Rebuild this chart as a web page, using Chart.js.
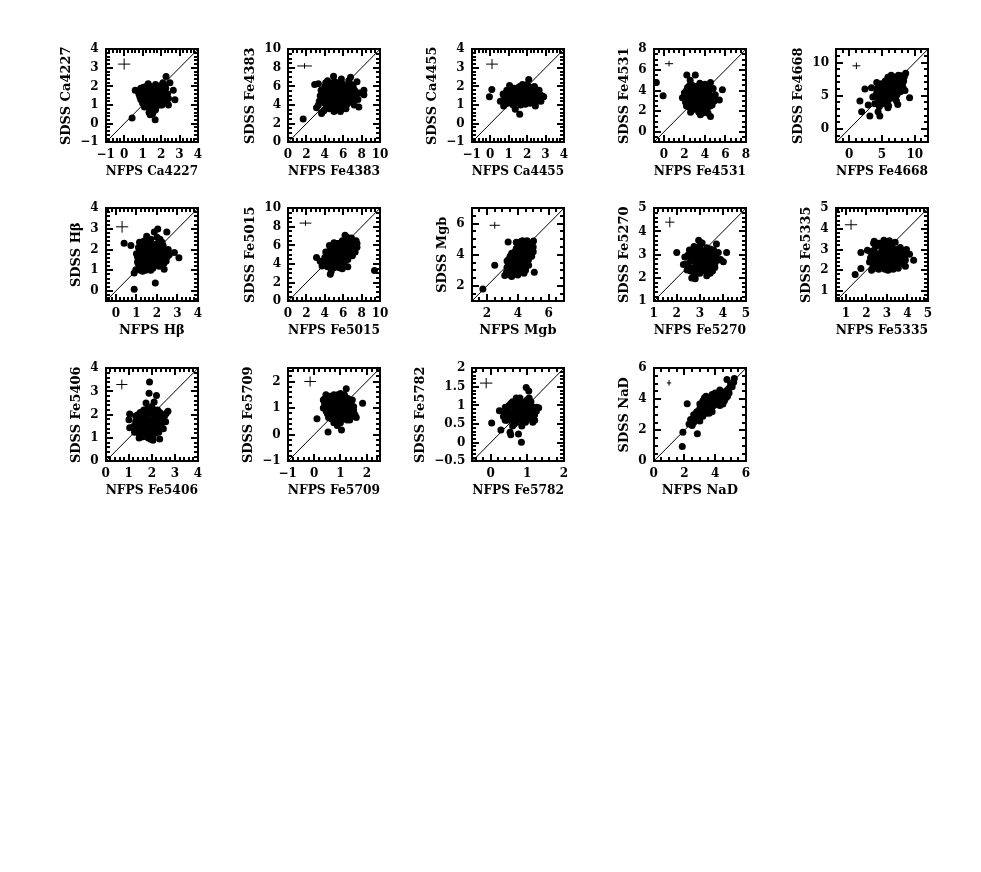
<!DOCTYPE html>
<html>
<head>
<meta charset="utf-8">
<script src="https://cdn.jsdelivr.net/npm/chart.js@4.4.1/dist/chart.umd.min.js"></script>
<style>
    html, body { margin: 0; padding: 0; background: #fff; }
    #page { position: relative; width: 981px; height: 872px; overflow: hidden; background: #fff; }
    .panel { position: absolute; }
    .panel canvas { display: block; }
</style>
</head>
<body>
<div id="page"></div>
<script>
const indexNames = ['Ca4227', 'Fe4383', 'Ca4455', 'Fe4531', 'Fe4668', 'H\u03B2', 'Fe5015', 'Mgb', 'Fe5270', 'Fe5335', 'Fe5406', 'Fe5709', 'Fe5782', 'NaD'];
const axisMin = [-1, 0, -1, -1, -2, -0.5, 0, 1, 1, 0.5, 0, -1, -0.5, 0];
const axisMax = [4, 10, 4, 8, 12, 4, 10, 7, 5, 5, 4, 2.5, 2, 6];

const xTickValues = [
    [-1, 0, 1, 2, 3, 4], [0, 2, 4, 6, 8, 10], [-1, 0, 1, 2, 3, 4], [0, 2, 4, 6, 8], [0, 5, 10],
    [0, 1, 2, 3, 4], [0, 2, 4, 6, 8, 10], [2, 4, 6], [1, 2, 3, 4, 5], [1, 2, 3, 4, 5],
    [0, 1, 2, 3, 4], [-1, 0, 1, 2], [0, 1, 2], [0, 2, 4, 6]
];
const yTickValues = [
    [-1, 0, 1, 2, 3, 4], [0, 2, 4, 6, 8, 10], [-1, 0, 1, 2, 3, 4], [0, 2, 4, 6, 8], [0, 5, 10],
    [0, 1, 2, 3, 4], [0, 2, 4, 6, 8, 10], [2, 4, 6], [1, 2, 3, 4, 5], [1, 2, 3, 4, 5],
    [0, 1, 2, 3, 4], [-1, 0, 1, 2], [-0.5, 0, 0.5, 1, 1.5, 2], [0, 2, 4, 6]
];
const xMinorStep = [0.2, 0.5, 0.2, 0.5, 1, 0.2, 0.5, 0.5, 0.2, 0.2, 0.2, 0.2, 0.2, 0.5];
const yMinorStep = [0.2, 0.5, 0.2, 0.5, 1, 0.2, 0.5, 0.5, 0.2, 0.2, 0.2, 0.2, 0.1, 0.5];

// typical error bar shown in the upper left of each panel
const errCentreX = [0, 1.8, 0.1, 0.5, 1.1, 0.3, 1.9, 2.5, 1.7, 1.25, 0.7, -0.15, -0.12, 1.0];
const errCentreY = [3.2, 8.2, 3.2, 6.6, 9.5, 3.1, 8.4, 5.9, 4.4, 4.2, 3.3, 2.0, 1.6, 5.05];
const errHalfX = [0.33, 0.8, 0.32, 0.4, 0.6, 0.3, 0.64, 0.33, 0.2, 0.3, 0.24, 0.22, 0.17, 0.14];
const errHalfY = [0.3, 0.3, 0.27, 0.27, 0.5, 0.28, 0.3, 0.22, 0.22, 0.25, 0.21, 0.19, 0.14, 0.18];

// [NFPS, SDSS]
const ptsCa4227 = [[0.43,0.3],[2.27,2.54],[2.48,2.2],[2.66,1.79],[2.75,1.29],[1.68,0.21],[1.41,0.48],[2.4,1.0],
    [0.6,1.8],[0.8,1.6],[0.9,1.3],[0.9,1.9],[1.0,1.1],[1.0,1.5],[1.1,1.8],[1.1,0.9],[1.2,1.3],[1.2,1.6],[1.2,2.0],
    [1.3,1.1],[1.3,1.45],[1.35,1.75],[1.4,0.8],[1.4,1.25],[1.45,1.55],[1.5,1.0],[1.5,1.9],[1.55,1.35],[1.6,1.65],
    [1.6,0.7],[1.65,1.15],[1.7,2.1],[1.7,1.45],[1.75,0.95],[1.8,1.75],[1.85,1.25],[1.9,1.55],[1.9,2.0],[1.95,1.0],
    [2.0,1.35],[2.05,1.8],[2.1,1.15],[2.1,2.2],[2.2,1.5],[2.25,1.9],[2.3,1.25],[1.3,2.15],[1.0,1.7],[0.85,1.45],[1.55,0.55],
    [0.95,1.6],[1.05,1.25],[1.05,1.95],[1.15,1.45],[1.15,1.05],[1.25,1.8],[1.25,0.95],[1.3,1.6],[1.35,1.35],[1.4,2.0],
    [1.45,1.1],[1.5,1.7],[1.5,1.45],[1.55,1.15],[1.6,1.9],[1.6,1.5],[1.65,0.9],[1.7,1.25],[1.75,1.6],[1.75,1.9],
    [1.8,1.1],[1.85,1.45],[1.9,1.8],[1.95,1.2],[2.0,1.6],[2.0,2.05],[2.05,1.0],[2.15,1.4],[2.15,1.7],[2.2,2.05],
    [2.35,1.6],[2.4,1.35],[1.45,0.85],[1.7,0.75],[1.35,0.6],[0.75,1.75]];
const ptsFe4383 = [[1.65,2.5],[2.9,6.2],[3.3,6.3],[3.1,3.7],[3.65,3.1],[3.3,4.0],[4.95,7.1],[6.8,7.0],[7.5,6.5],
    [8.25,5.6],[8.25,5.1],[7.7,3.8],[5.7,3.3],
    [3.6,5.6],[3.8,4.5],[4.0,6.0],[4.1,5.0],[4.2,3.8],[4.4,5.5],[4.5,4.3],[4.6,6.2],[4.7,5.0],[4.8,3.6],[4.9,5.8],
    [5.0,4.6],[5.1,6.5],[5.2,5.3],[5.3,4.1],[5.4,6.0],[5.5,5.0],[5.6,3.9],[5.7,5.6],[5.8,4.5],[5.9,6.3],[6.0,5.2],
    [6.1,4.2],[6.2,5.8],[6.3,4.8],[6.5,6.1],[6.6,5.3],[6.7,4.3],[6.9,5.7],[7.0,4.9],[7.2,4.0],[7.3,5.5],[3.9,3.4],
    [4.3,6.6],[5.0,3.3],[6.3,3.6],[3.5,5.0],[7.6,4.6],
    [3.7,4.8],[3.9,5.5],[4.0,4.2],[4.2,5.9],[4.3,4.7],[4.4,5.1],[4.6,4.0],[4.7,5.7],[4.8,6.4],[4.9,4.4],[5.0,5.4],
    [5.1,4.0],[5.2,6.0],[5.3,4.8],[5.4,5.6],[5.5,4.4],[5.6,6.4],[5.7,5.0],[5.8,3.7],[5.9,5.8],[6.0,4.5],[6.1,6.0],
    [6.2,5.1],[6.3,5.5],[6.4,4.1],[6.5,5.7],[6.6,4.8],[6.8,5.2],[6.9,6.2],[7.0,4.4],[7.1,5.9],[7.4,5.1],[4.5,3.6],
    [5.3,3.5],[6.0,3.8],[4.1,6.4],[3.4,4.4],[7.8,5.3],[6.6,6.6],[5.8,6.8]];
const ptsCa4455 = [[0.09,1.84],[-0.04,1.45],[0.55,1.2],[0.73,0.95],[1.36,0.77],[1.6,0.5],[2.09,2.37],[2.45,0.95],[2.9,1.45],
    [0.7,1.6],[0.8,1.3],[0.9,1.8],[1.0,1.5],[1.1,1.2],[1.1,1.95],[1.2,1.65],[1.3,1.35],[1.35,1.1],[1.4,1.85],[1.5,1.5],
    [1.55,1.25],[1.6,2.0],[1.7,1.7],[1.75,1.4],[1.8,1.15],[1.9,1.9],[1.95,1.55],[2.0,1.3],[2.1,1.75],[2.15,1.1],
    [2.2,1.5],[2.3,1.85],[2.35,1.3],[2.5,1.6],[2.6,1.35],[2.7,1.55],[1.25,1.0],[1.65,1.0],[2.4,2.0],[0.95,1.1],
    [1.05,2.05],[2.75,1.2],[2.0,2.1],
    [0.75,1.45],[0.85,1.65],[0.95,1.35],[1.05,1.75],[1.15,1.45],[1.2,1.1],[1.25,1.85],[1.35,1.55],[1.45,1.25],
    [1.45,1.7],[1.55,1.95],[1.6,1.4],[1.65,1.15],[1.7,1.85],[1.8,1.6],[1.85,1.3],[1.9,1.05],[2.0,1.7],[2.05,1.45],
    [2.1,1.2],[2.2,1.95],[2.25,1.65],[2.3,1.15],[2.4,1.45],[2.45,1.75],[2.55,1.2],[2.6,1.6],[2.65,1.8],[2.8,1.5],
    [1.0,1.2],[1.3,1.9],[1.75,2.1]];
const ptsFe4531 = [[-0.74,4.78],[-0.08,3.5],[2.23,5.5],[3.06,5.5],[2.56,5.0],[4.54,4.78],[5.7,4.07],[5.4,3.1],[3.55,1.67],[4.54,1.5],
    [1.8,3.3],[2.0,3.8],[2.1,2.9],[2.3,4.3],[2.4,3.4],[2.5,2.4],[2.6,3.9],[2.7,2.9],[2.8,4.5],[2.9,3.5],[3.0,2.2],
    [3.0,4.1],[3.1,3.0],[3.2,3.7],[3.3,2.5],[3.3,4.4],[3.4,1.9],[3.5,3.3],[3.6,4.0],[3.7,2.7],[3.8,3.6],[3.9,2.1],
    [3.9,4.3],[4.0,3.1],[4.1,2.5],[4.2,3.8],[4.3,1.8],[4.4,2.9],[4.5,3.5],[4.7,2.6],[4.8,4.2],[4.9,3.0],[2.2,2.5],
    [3.5,4.7],[2.6,1.9],[4.0,4.6],[5.0,3.6],
    [2.0,3.3],[2.1,3.6],[2.2,4.0],[2.3,3.0],[2.4,3.7],[2.5,4.5],[2.5,3.2],[2.6,2.6],[2.7,3.5],[2.8,4.0],[2.9,3.0],
    [2.9,2.5],[3.0,3.6],[3.1,4.4],[3.1,2.7],[3.2,3.2],[3.3,3.9],[3.4,2.3],[3.4,3.5],[3.5,2.8],[3.6,4.4],[3.6,2.2],
    [3.7,3.2],[3.8,3.9],[3.8,2.4],[3.9,3.4],[4.0,2.8],[4.1,3.6],[4.1,4.1],[4.2,2.2],[4.3,3.2],[4.4,3.9],[4.5,2.5],
    [4.6,3.2],[4.0,1.9],[3.7,1.8],[4.4,4.5],[2.4,2.8]];
const ptsFe4668 = [[1.64,4.2],[1.9,2.6],[3.15,1.95],[4.67,1.95],[4.4,2.6],[2.4,6.0],[3.4,6.2],[8.6,8.4],[9.2,4.7],
    [7.4,3.7],[5.9,3.2],[2.9,3.6],[3.9,3.8],
    [4.0,5.0],[4.3,6.1],[4.5,4.4],[4.7,5.5],[4.9,6.8],[5.0,4.8],[5.2,6.0],[5.4,5.2],[5.5,7.2],[5.6,4.3],[5.8,6.5],
    [5.9,5.6],[6.1,7.6],[6.2,4.9],[6.3,6.2],[6.5,5.4],[6.6,7.9],[6.7,6.8],[6.9,4.6],[7.0,6.0],[7.1,7.3],[7.3,5.2],
    [7.5,8.1],[7.6,6.6],[7.8,5.6],[8.0,7.4],[8.2,6.2],[8.4,7.9],[7.2,4.2],[5.3,3.8],[4.6,3.4],[6.0,3.5],[8.5,5.8],
    [4.2,7.0],[3.6,4.8],
    [4.2,5.5],[4.4,4.8],[4.6,6.4],[4.8,5.1],[5.0,5.8],[5.1,6.6],[5.2,4.5],[5.3,5.5],[5.5,6.2],[5.6,5.0],[5.7,7.0],
    [5.8,5.8],[6.0,6.7],[6.0,4.4],[6.2,5.5],[6.3,7.2],[6.4,6.0],[6.5,4.8],[6.6,6.8],[6.8,5.9],[6.9,7.6],[7.0,5.3],
    [7.2,6.5],[7.3,7.8],[7.4,5.9],[7.6,7.1],[7.8,6.1],[7.9,8.0],[8.1,6.7],[8.3,7.2],[6.8,6.4],[5.4,6.8],[4.9,4.3],
    [5.9,7.8],[6.4,8.1],[7.1,4.9]];
const ptsHbeta = [[0.89,0.08],[1.92,0.38],[0.4,2.3],[0.73,2.2],[2.04,3.0],[1.87,2.85],[2.48,2.85],[2.85,1.86],
    [3.07,1.6],[2.45,1.45],[0.97,1.03],[0.89,0.87],
    [1.0,1.8],[1.05,1.4],[1.1,2.1],[1.2,1.6],[1.25,1.2],[1.3,1.95],[1.35,2.4],[1.4,1.45],[1.45,1.0],[1.5,1.75],
    [1.55,2.2],[1.6,1.3],[1.65,1.95],[1.7,2.5],[1.75,1.55],[1.8,1.1],[1.85,1.85],[1.9,2.25],[1.95,1.4],[2.0,1.7],
    [2.05,2.05],[2.1,1.2],[2.15,2.5],[2.2,1.85],[2.25,1.5],[2.3,2.2],[2.4,1.7],[2.35,1.05],[1.3,0.95],[1.5,2.65],
    [2.55,2.0],[1.15,2.35],
    [1.05,1.65],[1.1,1.3],[1.15,1.9],[1.2,1.45],[1.25,2.15],[1.3,1.7],[1.35,1.25],[1.4,1.9],[1.4,2.2],[1.45,1.6],
    [1.5,1.35],[1.55,2.0],[1.6,1.6],[1.6,1.1],[1.65,2.35],[1.7,1.8],[1.75,1.35],[1.8,2.1],[1.8,1.6],[1.85,1.25],
    [1.9,2.0],[1.95,1.75],[2.0,1.5],[2.05,2.3],[2.1,1.85],[2.1,1.45],[2.15,2.1],[2.2,1.65],[2.25,2.35],[2.3,1.9],
    [2.35,1.35],[2.45,1.95],[2.5,1.65],[1.2,1.0],[1.7,1.0],[2.0,2.6],[1.45,2.45],[2.6,1.75]];
const ptsFe5015 = [[3.1,4.7],[4.6,2.9],[9.4,3.3],[6.2,7.1],[7.5,6.2],[3.7,3.8],
    [3.9,4.4],[4.1,5.3],[4.3,3.7],[4.5,4.8],[4.6,5.6],[4.8,4.2],[4.9,5.2],[5.0,3.6],[5.1,4.7],[5.2,5.8],[5.3,4.2],
    [5.4,5.1],[5.5,6.2],[5.6,4.6],[5.7,3.8],[5.8,5.5],[5.9,6.5],[6.0,4.9],[6.1,4.1],[6.2,5.9],[6.3,6.6],[6.4,5.2],
    [6.5,4.5],[6.6,6.2],[6.8,5.6],[6.9,6.8],[7.0,4.9],[7.2,6.0],[7.3,5.3],[7.4,6.5],[4.2,4.9],[3.5,4.3],[5.9,3.5],
    [6.5,3.7],[4.7,3.2],[5.0,6.3],
    [4.0,4.7],[4.2,4.3],[4.4,5.3],[4.4,4.0],[4.6,4.5],[4.7,5.1],[4.8,5.8],[4.9,3.8],[5.0,4.4],[5.1,5.4],[5.2,4.9],
    [5.3,6.2],[5.4,3.9],[5.5,4.7],[5.6,5.4],[5.7,6.0],[5.8,4.3],[5.9,5.0],[6.0,5.7],[6.1,6.3],[6.2,4.7],[6.3,5.3],
    [6.4,6.0],[6.5,4.9],[6.6,5.6],[6.7,6.5],[6.8,5.1],[6.9,5.9],[7.1,5.5],[7.2,6.4],[5.6,3.6],[6.1,3.8],[4.5,6.0],
    [7.5,5.8],[6.4,6.9]];
const ptsMgb = [[1.73,1.8],[2.5,3.33],[3.15,2.66],[3.26,2.87],[3.37,4.82],[5.07,2.87],[4.7,3.33],[5.02,4.88],
    [3.3,3.2],[3.4,3.7],[3.5,3.0],[3.6,3.5],[3.6,4.1],[3.7,2.8],[3.8,3.3],[3.8,3.9],[3.9,4.4],[4.0,3.1],[4.0,3.6],
    [4.1,4.0],[4.1,4.7],[4.2,3.4],[4.3,2.9],[4.3,3.8],[4.4,4.3],[4.5,3.2],[4.5,4.7],[4.6,3.7],[4.7,4.1],[4.8,4.6],
    [4.9,3.9],[4.3,4.9],[3.5,2.7],[4.0,2.7],[4.6,4.9],[3.9,4.8],[4.8,4.3],[5.0,4.5],
    [3.4,3.4],[3.5,3.9],[3.6,2.9],[3.7,3.3],[3.7,3.7],[3.8,4.2],[3.9,3.0],[3.9,3.5],[4.0,4.0],[4.0,4.5],[4.1,3.3],
    [4.1,2.9],[4.2,3.8],[4.2,4.3],[4.3,3.1],[4.3,4.6],[4.4,3.6],[4.4,4.0],[4.5,3.0],[4.5,4.4],[4.6,3.4],[4.6,4.0],
    [4.7,4.5],[4.7,3.7],[4.8,4.0],[4.9,4.3],[4.9,4.7],[5.0,4.2],[3.3,3.6],[4.2,4.85],[3.6,2.6],[4.4,2.8]];
const ptsFe5270 = [[2.0,3.1],[2.29,2.58],[2.8,1.97],[2.95,3.62],[3.02,3.53],[4.16,3.1],[4.02,2.7],[3.72,3.46],
    [2.35,2.9],[2.5,2.6],[2.55,3.2],[2.6,2.3],[2.7,2.85],[2.75,3.35],[2.8,2.5],[2.85,3.05],[2.9,2.2],[2.95,2.75],
    [3.0,3.3],[3.05,2.45],[3.1,2.95],[3.15,3.15],[3.2,2.6],[3.25,2.3],[3.3,2.85],[3.35,3.2],[3.4,2.5],[3.45,2.75],
    [3.5,3.05],[3.55,2.3],[3.6,2.9],[3.65,2.6],[3.75,2.75],[3.8,3.1],[2.65,2.0],[3.1,3.5],[2.45,2.35],[3.45,2.2],
    [2.4,2.6],[2.5,3.0],[2.6,2.75],[2.65,3.1],[2.7,2.4],[2.8,2.7],[2.85,3.3],[2.9,2.5],[2.95,2.95],[3.0,2.6],
    [3.0,2.2],[3.05,3.15],[3.1,2.75],[3.15,2.4],[3.2,3.0],[3.25,2.7],[3.3,3.3],[3.35,2.5],[3.4,2.95],[3.45,3.25],
    [3.5,2.6],[3.55,2.85],[3.6,3.2],[3.65,2.45],[3.7,2.95],[3.9,2.8],[2.75,2.15],[3.3,2.1],[2.55,2.45]];
const ptsFe5335 = [[1.45,1.79],[1.73,2.08],[1.73,2.86],[2.05,2.97],[4.3,2.48],[4.1,2.78],[3.77,2.31],[2.38,3.4],[3.12,3.43],
    [2.15,2.4],[2.2,2.9],[2.3,2.1],[2.35,2.65],[2.45,3.15],[2.5,2.3],[2.55,2.8],[2.6,2.05],[2.65,3.3],[2.7,2.55],
    [2.75,2.95],[2.8,2.2],[2.9,2.7],[2.95,3.2],[3.0,2.4],[3.05,2.0],[3.1,2.85],[3.2,2.55],[3.25,3.1],[3.3,2.25],
    [3.35,2.75],[3.45,3.0],[3.5,2.45],[3.55,2.1],[3.6,2.7],[3.7,2.95],[3.85,2.6],[3.95,3.0],[2.85,3.45],[3.4,3.35],
    [3.9,2.2],[2.25,2.0],
    [2.2,2.6],[2.3,2.35],[2.35,2.95],[2.4,2.1],[2.45,2.5],[2.5,2.75],[2.55,3.3],[2.6,2.45],[2.65,2.7],[2.7,2.15],
    [2.75,3.1],[2.8,2.45],[2.85,2.85],[2.9,2.05],[2.95,2.5],[3.0,3.05],[3.05,2.7],[3.1,2.25],[3.15,3.25],[3.2,2.85],
    [3.25,2.4],[3.3,2.05],[3.35,3.0],[3.4,2.6],[3.45,2.3],[3.5,2.85],[3.6,2.5],[3.65,3.1],[3.7,2.3],[3.8,2.8],
    [3.9,2.5],[2.35,3.3]];
const ptsFe5406 = [[1.9,3.41],[1.88,2.92],[2.2,2.83],[1.04,2.03],[1.01,1.79],[1.04,1.44],[2.7,2.15],[2.34,0.96],[1.62,1.06],
    [1.3,1.7],[1.35,1.4],[1.4,2.0],[1.45,1.2],[1.5,1.6],[1.55,1.9],[1.6,1.35],[1.65,2.2],[1.7,1.5],[1.75,1.15],
    [1.8,1.8],[1.85,2.05],[1.9,1.3],[1.95,1.65],[2.0,2.35],[2.05,1.1],[2.1,1.95],[2.15,1.45],[2.2,1.75],[2.25,2.2],
    [2.3,1.25],[2.35,1.6],[2.45,1.9],[2.5,1.4],[2.6,1.7],[1.75,2.5],[2.1,2.55],[1.25,1.25],[1.55,1.05],[1.95,0.95],
    [2.62,2.05],
    [1.3,1.95],[1.35,1.55],[1.4,1.3],[1.45,1.8],[1.5,2.1],[1.5,1.35],[1.55,1.65],[1.6,1.95],[1.6,1.15],[1.65,1.45],
    [1.7,1.75],[1.7,2.05],[1.75,1.3],[1.8,1.55],[1.8,2.25],[1.85,1.0],[1.85,1.75],[1.9,1.5],[1.95,2.1],[2.0,1.25],
    [2.0,1.8],[2.05,1.55],[2.1,2.2],[2.15,1.2],[2.15,1.7],[2.2,1.95],[2.25,1.45],[2.3,1.8],[2.35,2.1],[2.4,1.55],
    [2.5,1.75],[2.55,1.95],[1.2,1.5],[1.45,1.0],[2.05,0.9]];
const ptsFe5709 = [[0.11,0.6],[0.53,0.1],[1.04,0.18],[1.84,1.18],[1.22,1.73],[0.88,0.35],
    [0.35,1.0],[0.4,1.35],[0.5,0.8],[0.55,1.2],[0.6,1.45],[0.65,0.6],[0.7,1.0],[0.75,1.3],[0.8,0.75],[0.85,1.15],
    [0.9,1.5],[0.95,0.55],[1.0,0.9],[1.05,1.25],[1.1,0.7],[1.15,1.05],[1.2,1.4],[1.25,0.8],[1.3,1.15],[1.35,0.55],
    [1.4,0.95],[1.45,1.3],[1.55,0.75],[1.5,1.05],[0.45,1.5],[1.0,1.55],[0.75,0.45],[1.6,0.65],
    [0.4,1.15],[0.45,0.9],[0.5,1.3],[0.55,1.0],[0.6,0.75],[0.6,1.25],[0.65,1.4],[0.7,0.85],[0.7,1.15],[0.75,1.5],
    [0.8,0.95],[0.8,1.25],[0.85,0.65],[0.9,1.0],[0.9,1.35],[0.95,0.8],[1.0,1.1],[1.0,1.4],[1.05,0.6],[1.1,0.95],
    [1.1,1.3],[1.15,0.75],[1.2,1.15],[1.25,0.55],[1.25,1.0],[1.3,1.35],[1.35,0.8],[1.4,1.15],[1.45,0.7],[1.5,0.9],
    [0.55,0.65],[1.0,0.45],[1.15,1.5],[0.35,1.3]];
const ptsFe5782 = [[0.03,0.53],[0.28,0.34],[0.53,0.28],[0.55,0.21],[0.84,0.01],[0.76,0.23],[0.97,1.48],[1.04,1.39],
    [1.31,0.94],[0.24,0.86],
    [0.35,0.7],[0.4,0.95],[0.45,0.6],[0.5,0.85],[0.55,1.05],[0.6,0.7],[0.65,0.95],[0.7,0.55],[0.75,0.8],[0.75,1.15],
    [0.8,0.65],[0.85,1.0],[0.9,0.75],[0.95,0.55],[0.95,1.1],[1.0,0.85],[1.05,0.65],[1.1,1.0],[1.15,0.8],[1.2,0.6],
    [1.25,0.95],[0.6,0.45],[0.85,0.45],[1.05,1.2],
    [0.35,0.85],[0.4,0.6],[0.45,0.8],[0.5,1.0],[0.5,0.65],[0.55,0.8],[0.6,1.1],[0.6,0.6],[0.65,0.8],[0.7,1.0],
    [0.7,0.7],[0.75,0.95],[0.8,0.85],[0.8,1.2],[0.85,0.6],[0.85,0.85],[0.9,1.05],[0.9,0.65],[0.95,0.9],[1.0,1.15],
    [1.0,0.7],[1.05,0.95],[1.1,0.75],[1.1,1.1],[1.15,0.95],[1.2,0.75],[1.25,0.85],[0.65,0.5],[1.15,0.55],[0.7,1.2]];
const ptsNaD = [[1.86,0.95],[1.9,1.88],[2.84,1.77],[2.18,3.71],
    [2.3,2.4],[2.4,2.7],[2.6,2.5],[2.7,2.9],[2.8,3.2],[2.9,2.7],[3.0,3.4],[3.1,3.0],[3.2,3.6],[3.3,3.2],[3.4,3.9],
    [3.4,4.2],[3.5,3.4],[3.6,3.7],[3.7,4.1],[3.8,3.5],[3.9,3.9],[4.0,4.4],[4.1,3.7],[4.2,4.1],[4.3,4.6],[4.4,4.0],
    [4.5,4.3],[4.6,3.9],[4.7,4.5],[4.8,4.2],[4.9,4.7],[4.76,5.27],[5.0,5.0],[5.24,5.33],[5.1,4.8],[3.0,2.6],
    [3.6,3.1],[4.3,3.6],
    [2.5,2.6],[2.6,3.0],[2.7,2.7],[2.9,3.1],[3.0,3.7],[3.1,3.3],[3.2,2.9],[3.2,3.9],[3.3,3.5],[3.4,3.1],[3.5,3.7],
    [3.5,4.1],[3.6,3.4],[3.7,3.8],[3.8,4.3],[3.8,3.2],[3.9,3.6],[4.0,4.0],[4.1,4.3],[4.2,3.8],[4.3,4.2],[4.4,4.5],
    [4.5,3.7],[4.6,4.3],[4.7,4.1],[4.8,4.6],[4.9,4.4],[5.0,4.8],[5.2,5.1],[3.3,4.1],[2.5,2.3]];

const allPoints = [ptsCa4227, ptsFe4383, ptsCa4455, ptsFe4531, ptsFe4668, ptsHbeta, ptsFe5015,
    ptsMgb, ptsFe5270, ptsFe5335, ptsFe5406, ptsFe5709, ptsFe5782, ptsNaD];

document.addEventListener('DOMContentLoaded', () => {
    const page = document.getElementById('page');
    const colLeft = [106, 288, 472, 654, 836];
    const rowTop = [49, 208, 368];
    const boxW = 92;
    const boxH = 93;
    const titleFont = { family: 'DejaVu Serif', size: 13, weight: 'bold', lineHeight: 1.1 };
    const tickFont = { family: 'DejaVu Serif', size: 12, weight: 'bold' };

    const fmt = (v) => (v < 0 ? '\u2212' + (-v) : String(v));

    const stepValues = (min, max, step) => {
        const out = [];
        const k0 = Math.ceil(min / step - 1e-6);
        const k1 = Math.floor(max / step + 1e-6);
        for (let k = k0; k <= k1; k++) out.push(k * step);
        return out;
    };

    // PGPLOT-like frame: ticks pointing inwards on all four sides
    const makeFrameTicks = (i) => ({
        id: 'frameTicks' + i,
        afterDraw(chart) {
            const ctx = chart.ctx;
            const a = chart.chartArea;
            const xs = chart.scales.x;
            const ys = chart.scales.y;
            const L = Math.round(a.left);
            const R = Math.round(a.right);
            const T = Math.round(a.top);
            const B = Math.round(a.bottom);
            ctx.save();
            ctx.fillStyle = '#000';
            const tickX = (v, len) => {
                const px = Math.round(xs.getPixelForValue(v)) - 1;
                ctx.fillRect(px, B - len, 2, len);
                ctx.fillRect(px, T, 2, len);
            };
            const tickY = (v, len) => {
                const py = Math.round(ys.getPixelForValue(v)) - 1;
                ctx.fillRect(L, py, len, 2);
                ctx.fillRect(R - len, py, len, 2);
            };
            stepValues(axisMin[i], axisMax[i], xMinorStep[i]).forEach(v => tickX(v, 4));
            stepValues(axisMin[i], axisMax[i], yMinorStep[i]).forEach(v => tickY(v, 4));
            xTickValues[i].forEach(v => tickX(v, 7));
            yTickValues[i].forEach(v => tickY(v, 7));
            ctx.fillRect(L - 1, T - 1, R - L + 2, 2);
            ctx.fillRect(L - 1, B - 1, R - L + 2, 2);
            ctx.fillRect(L - 1, T - 1, 2, B - T + 2);
            ctx.fillRect(R - 1, T - 1, 2, B - T + 2);
            ctx.restore();
        }
    });

    const makeConfig = (i) => {
        const lo = axisMin[i];
        const hi = axisMax[i];
        const cx = errCentreX[i];
        const cy = errCentreY[i];
        const lineSet = (data) => ({
            data, showLine: true, pointRadius: 0, borderColor: '#000', borderWidth: 1
        });
        return {
            type: 'scatter',
            data: {
                datasets: [
                    {
                        data: allPoints[i].map(p => ({ x: p[0], y: p[1] })),
                        pointRadius: 3.5,
                        pointBackgroundColor: '#000',
                        pointBorderWidth: 0
                    },
                    lineSet([{ x: lo, y: lo }, { x: hi, y: hi }]),
                    lineSet([{ x: cx - errHalfX[i], y: cy }, { x: cx + errHalfX[i], y: cy }]),
                    lineSet([{ x: cx, y: cy - errHalfY[i] }, { x: cx, y: cy + errHalfY[i] }])
                ]
            },
            options: {
                responsive: false,
                animation: false,
                devicePixelRatio: 1,
                layout: { padding: { left: 0, right: 14, top: 10, bottom: 0 } },
                plugins: {
                    legend: { display: false },
                    tooltip: { enabled: false }
                },
                scales: {
                    x: {
                        type: 'linear', min: lo, max: hi,
                        afterBuildTicks: (s) => { s.ticks = xTickValues[i].map(v => ({ value: v })); },
                        ticks: { autoSkip: false, maxRotation: 0, minRotation: 0, padding: 5, color: '#000', font: tickFont, callback: fmt },
                        grid: { display: false, drawTicks: false },
                        border: { display: false },
                        title: { display: true, text: 'NFPS ' + indexNames[i], color: '#000', font: titleFont, padding: { top: -2, bottom: 0 } }
                    },
                    y: {
                        type: 'linear', min: lo, max: hi,
                        afterBuildTicks: (s) => { s.ticks = yTickValues[i].map(v => ({ value: v })); },
                        ticks: { autoSkip: false, padding: 7, color: '#000', font: tickFont, callback: fmt },
                        grid: { display: false, drawTicks: false },
                        border: { display: false },
                        title: { display: true, text: 'SDSS ' + indexNames[i], color: '#000', font: titleFont, padding: { top: 0, bottom: 0 } }
                    }
                }
            },
            plugins: [makeFrameTicks(i)]
        };
    };

    const makePanel = (i) => {
        const wrap = document.createElement('div');
        wrap.className = 'panel';
        page.appendChild(wrap);

        // first pass only measures how much room the axes take
        const probe = document.createElement('canvas');
        probe.width = 200;
        probe.height = 200;
        wrap.appendChild(probe);
        let chart = new Chart(probe, makeConfig(i));
        const a = chart.chartArea;
        const w = Math.round(200 + boxW - (a.right - a.left));
        const h = Math.round(200 + boxH - (a.bottom - a.top));
        chart.destroy();
        wrap.removeChild(probe);

        const canvas = document.createElement('canvas');
        canvas.width = w;
        canvas.height = h;
        wrap.appendChild(canvas);
        chart = new Chart(canvas, makeConfig(i));
        const b = chart.chartArea;
        wrap.style.left = Math.round(colLeft[i % 5] - b.left) + 'px';
        wrap.style.top = Math.round(rowTop[Math.floor(i / 5)] - b.top) + 'px';
    };

    indexNames.forEach((name, i) => makePanel(i));
});
</script>
</body>
</html>
